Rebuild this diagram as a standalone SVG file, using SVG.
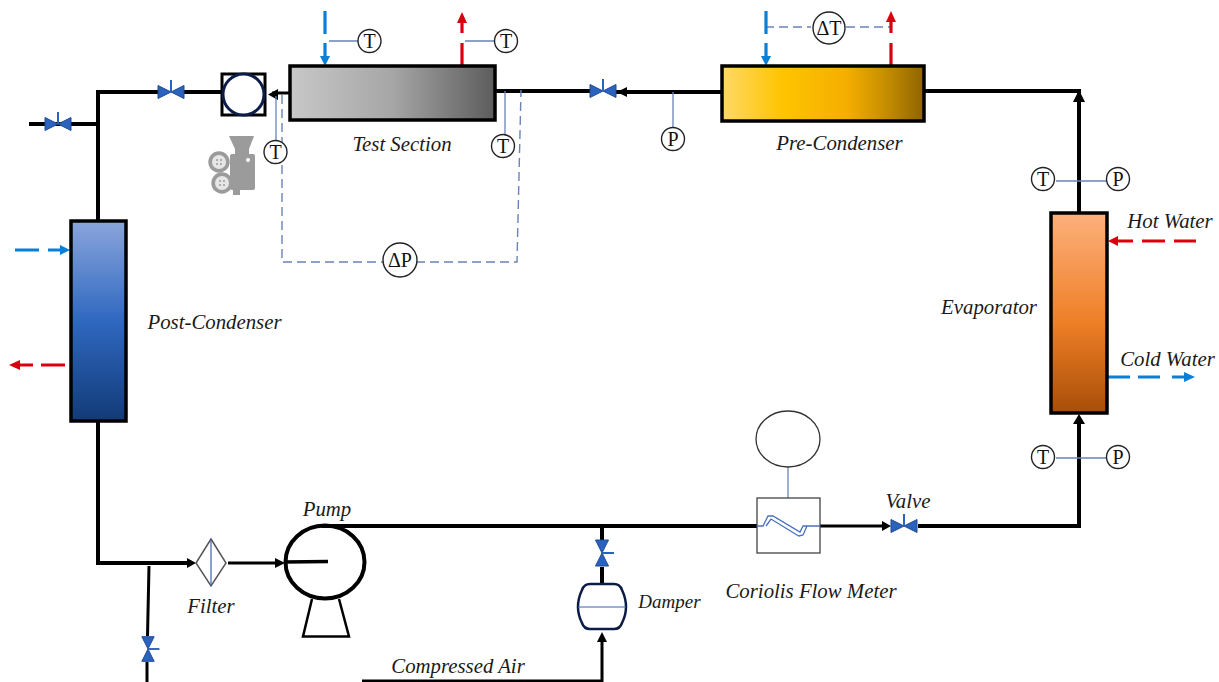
<svg xmlns="http://www.w3.org/2000/svg" width="1219" height="682" viewBox="0 0 1219 682">
<style>
.pipe{fill:none;stroke:#000;stroke-width:4}
.thin{fill:none;stroke:#000;stroke-width:3}
.sig{fill:none;stroke:#6a84b8;stroke-width:1.3}
.dash{fill:none;stroke:#6a84b8;stroke-width:1.4;stroke-dasharray:9 5}
.box{stroke:#000;stroke-width:3.5}
.inst{fill:#fff;stroke:#222;stroke-width:1.4}
.it{font-family:"Liberation Serif",serif;font-size:20px;fill:#111;text-anchor:middle}
.lb{font-family:"Liberation Serif",serif;font-style:italic;font-size:20.8px;fill:#1a1a1a;text-anchor:middle}
.v{fill:#2a62c0;stroke:#1f4a90;stroke-width:1}
.vs{stroke:#2a62c0;stroke-width:2;fill:none}
.blue{fill:none;stroke:#0a7fd6;stroke-width:3.2}
.red{fill:none;stroke:#d9000f;stroke-width:3.2}
.cor{fill:none;stroke:#4a70bc;stroke-width:1.3}
</style>
<defs>
<linearGradient id="g1"><stop offset="0" stop-color="#c8c8c8"/><stop offset="0.5" stop-color="#a6a6a6"/><stop offset="1" stop-color="#5c5c5c"/></linearGradient>
<linearGradient id="g2"><stop offset="0" stop-color="#ffd966"/><stop offset="0.3" stop-color="#ffc400"/><stop offset="0.62" stop-color="#f5ae00"/><stop offset="0.8" stop-color="#c89000"/><stop offset="1" stop-color="#8f6400"/></linearGradient>
<linearGradient id="g3" x2="0" y2="1"><stop offset="0" stop-color="#8aa5dc"/><stop offset="0.5" stop-color="#2f68c0"/><stop offset="1" stop-color="#123a78"/></linearGradient>
<linearGradient id="g4" x2="0" y2="1"><stop offset="0" stop-color="#fdb07c"/><stop offset="0.55" stop-color="#ee7f26"/><stop offset="1" stop-color="#a84e08"/></linearGradient>
<g id="valve"><path class="v" d="M-13-6.500 0 0-13 6.500ZM13-6.500 0 0 13 6.500Z"/><path class="vs" d="M0 0V-12"/></g>
</defs>
<rect width="1219" height="682" fill="#fff"/>
<g id="connectors">
<path class="pipe" d="M98 221V92H160M29 124H98M182 92H222"/>
<path class="thin" d="M290 93H272"/><path d="M278 89 268 94.500 278 100Z"/>
<path class="pipe" d="M496 91H590M616 92H722"/><path d="M627 87 617 92 627 97Z"/>
<path class="pipe" d="M924 91H1079V212"/><path d="M1073 102 1079 90 1085 102Z"/>
<path class="pipe" d="M98 422V563H190"/><path d="M187 558 196 563 187 568Z"/>
<path class="thin" d="M228 563H280"/><path d="M275 558 285 563 275 568Z"/>
<path class="thin" d="M149 566 147.500 636M147 662V682"/>
<path class="pipe" d="M322 526H757"/><path class="thin" d="M820 526H884"/><path d="M882 521 891 526 882 531Z"/>
<path class="pipe" d="M918 526H1079V420"/><path d="M1073 424 1079 414 1085 424Z"/>
<path class="pipe" d="M602 526V542M602 567V584"/>
<path class="thin" d="M362 681H602V640"/><path d="M597 642 602 632 607 642Z"/>
</g>
<g id="signals">
<path class="sig" d="M329 41H358M465 41H495M276 96V140M505 91V136M673 92V127M1056 181H1108M1056 458H1108M788 455V498"/>
<path class="dash" d="M282 95V262H384M416 262H517L521 90M765 27H811M846 27H890"/>
</g>
<g id="utility">
<path class="blue" d="M325 11V34"/><path class="blue" d="M325 43V58"/><path d="M320 56 325 66 330 56Z" fill="#0a7fd6"/>
<path class="red" d="M462 66V43M462 33V20"/><path d="M457 23 462 12 467 23Z" fill="#d9000f"/>
<path class="blue" d="M766 11V34M766 43V58"/><path d="M761 56 766 66 771 56Z" fill="#0a7fd6"/>
<path class="red" d="M891 66V43M891 33V20"/><path d="M886 22 891 11 896 22Z" fill="#d9000f"/>
<path class="blue" d="M15 250H39M48 250H62"/><path d="M60 245 70 250 60 255Z" fill="#0a7fd6"/>
<path class="red" d="M65 365H41M33 365H18"/><path d="M20 360 9 365 20 370Z" fill="#d9000f"/>
<path class="red" d="M1196 241H1174M1165 241H1142M1133 241H1116"/><path d="M1118 236 1108 241 1118 246Z" fill="#d9000f"/>
<path class="blue" d="M1108 377H1130M1138 377H1160M1172 377H1186"/><path d="M1184 372 1195 377 1184 382Z" fill="#0a7fd6"/>
</g>
<g id="test-section"><rect class="box" x="290" y="66" width="205" height="54" fill="url(#g1)"/><text class="lb" x="402" y="151">Test Section</text></g>
<g id="pre-condenser"><rect class="box" x="722" y="66" width="202" height="55" fill="url(#g2)"/><text class="lb" x="839.500" y="150">Pre-Condenser</text></g>
<g id="post-condenser"><rect class="box" x="71" y="221" width="55" height="200" fill="url(#g3)"/><text class="lb" x="214.500" y="329">Post-Condenser</text></g>
<g id="evaporator"><rect class="box" x="1051" y="213" width="56" height="200" fill="url(#g4)"/><text class="lb" x="989" y="314">Evaporator</text></g>
<g id="sight-glass"><rect x="222" y="74" width="43" height="41" fill="#fff" stroke="#000" stroke-width="3"/><circle cx="243.500" cy="94.500" r="20.500" fill="#fff" stroke="#0c1c48" stroke-width="3"/></g>
<g id="camera" fill="#9b9b9b">
<path d="M229 136H254L249 149H235Z"/><rect x="235" y="148" width="14" height="7"/><rect x="230" y="154" width="25" height="36" rx="2"/><rect x="233" y="189" width="7" height="6"/>
<circle cx="219" cy="162" r="10.700"/><circle cx="222" cy="183" r="10.700"/>
<circle cx="219" cy="162" r="7" fill="#e6e6e6"/><circle cx="222" cy="183" r="7" fill="#e6e6e6"/><circle cx="248" cy="160" r="2" fill="#fff"/>
<circle cx="217" cy="160" r="1"/><circle cx="221" cy="160" r="1"/><circle cx="217" cy="164" r="1"/><circle cx="221" cy="164" r="1"/>
<circle cx="220" cy="181" r="1"/><circle cx="224" cy="181" r="1"/><circle cx="220" cy="185" r="1"/><circle cx="224" cy="185" r="1"/>
</g>
<g id="valve-1"><use href="#valve" x="58" y="124"/></g>
<g id="valve-2"><use href="#valve" x="171" y="92"/></g>
<g id="valve-3"><use href="#valve" x="603" y="91"/></g>
<g id="valve-4"><use href="#valve" x="904" y="526"/><text class="lb" x="908" y="508">Valve</text></g>
<g id="valve-5"><use href="#valve" transform="translate(148 649) rotate(90) scale(.95)"/></g>
<g id="valve-6"><use href="#valve" transform="translate(602 553) rotate(90)"/></g>
<g id="t1"><circle class="inst" cx="369.500" cy="41" r="11.500"/><text class="it" x="369.500" y="47.500">T</text></g>
<g id="t2"><circle class="inst" cx="506" cy="41" r="11.500"/><text class="it" x="506" y="47.500">T</text></g>
<g id="t3"><circle class="inst" cx="275.500" cy="152" r="11.500"/><text class="it" x="275.500" y="158.500">T</text></g>
<g id="t4"><circle class="inst" cx="503" cy="146" r="11.500"/><text class="it" x="503" y="152.500">T</text></g>
<g id="p1"><circle class="inst" cx="673" cy="139" r="11.500"/><text class="it" x="673" y="145.500">P</text></g>
<g id="dt"><circle class="inst" cx="829" cy="28" r="16"/><text class="it" x="829" y="34.500">ΔT</text></g>
<g id="dp"><circle class="inst" cx="400" cy="260" r="17"/><text class="it" x="400" y="266.500">ΔP</text></g>
<g id="t5"><circle class="inst" cx="1043" cy="179" r="11.500"/><text class="it" x="1043" y="185.500">T</text></g>
<g id="p2"><circle class="inst" cx="1118" cy="179" r="11.500"/><text class="it" x="1118" y="185.500">P</text></g>
<g id="t6"><circle class="inst" cx="1043" cy="457" r="11.500"/><text class="it" x="1043" y="463.500">T</text></g>
<g id="p3"><circle class="inst" cx="1118" cy="457" r="11.500"/><text class="it" x="1118" y="463.500">P</text></g>
<g id="filter"><path d="M211 539 226 563 211 586 196 563Z" fill="#fff" stroke="#555" stroke-width="1.500"/><path d="M211 539V586" stroke="#3d62b0" stroke-width="1.200"/><text class="lb" x="211" y="613">Filter</text></g>
<g id="pump"><path d="M312 599 303 636.500H349L339 599" fill="#fff" stroke="#000" stroke-width="2.500"/><ellipse cx="325" cy="562" rx="39.500" ry="36.500" fill="none" stroke="#000" stroke-width="4"/><path d="M284 562 328 561.500" stroke="#000" stroke-width="3.500"/><text class="lb" x="327" y="516">Pump</text></g>
<g id="damper"><path d="M590 584H614Q620 584 622 590Q630 607 622 623Q620 629 614 629H590Q584 629 582 623Q574 607 582 590Q584 584 590 584Z" fill="#fff" stroke="#0c1c48" stroke-width="2.500"/><path d="M578 607H626" stroke="#3d62b0" stroke-width="1.200"/><text class="lb" x="669.500" y="608" style="font-size:19px">Damper</text></g>
<g id="coriolis"><ellipse cx="788" cy="439" rx="32" ry="28" fill="#fff" stroke="#333" stroke-width="1.300"/><rect x="757" y="498" width="63" height="55" fill="#fff" stroke="#444" stroke-width="1.300"/><path class="cor" d="M757 526H763L768 516H773L800 532 803 526H820M766 526 771 519 797 535 799 536 803 535 807 526"/><text class="lb" x="811" y="598">Coriolis Flow Meter</text></g>
<g id="labels"><text class="lb" x="458" y="673">Compressed Air</text><text class="lb" x="1170" y="228">Hot Water</text><text class="lb" x="1167.500" y="366">Cold Water</text></g>
</svg>
